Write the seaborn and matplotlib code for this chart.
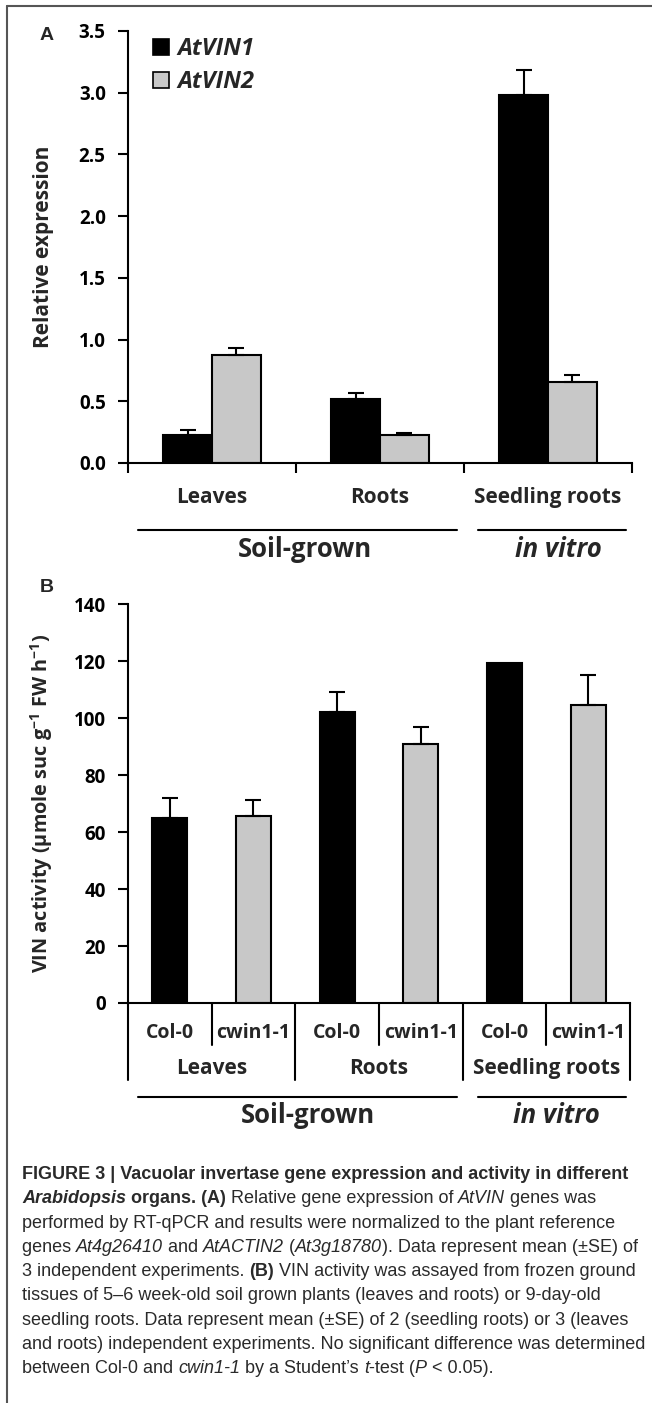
import numpy as np
import pandas as pd
import matplotlib
matplotlib.use("Agg")
import matplotlib.pyplot as plt
import seaborn as sns
from matplotlib.patches import Patch
from matplotlib.lines import Line2D
from matplotlib.container import BarContainer

# ---- data ----
organs = ["Leaves", "Roots", "Seedling roots"]
genes = ["AtVIN1", "AtVIN2"]
expr_vin1 = [0.23, 0.52, 2.98]
expr_vin2 = [0.875, 0.225, 0.66]
err_vin1 = [0.035, 0.05, 0.20]
err_vin2 = [0.055, 0.02, 0.05]

genotypes = ["Col-0", "cwin1-1"]
act_col = [65.0, 102.0, 119.3]
act_cwin = [65.5, 91.0, 104.5]
err_col = [7.0, 7.0, 0.0]
err_cwin = [5.7, 6.0, 10.5]

growth = ["Soil-grown", "in vitro"]

W, H = 652, 1403
FONT = "Open Sans"
sns.set_theme(style="white")
plt.rcParams["font.family"] = [FONT, "DejaVu Sans"]
plt.rcParams["font.weight"] = "bold"
plt.rcParams["mathtext.fontset"] = "custom"
plt.rcParams["mathtext.rm"] = FONT + ":bold"
plt.rcParams["mathtext.it"] = FONT + ":bold:italic"
plt.rcParams["mathtext.bf"] = FONT + ":bold"

fig = plt.figure(figsize=(W / 100, H / 100), dpi=100)
fig.patch.set_facecolor("white")


def px_axes(x0, x1, y0, y1):
    return fig.add_axes([x0 / W, 1 - y1 / H, (x1 - x0) / W, (y1 - y0) / H])


colors = ["black", "#c8c8c8"]

# ========================
# Panel A
# ========================
axA = px_axes(128, 632, 31, 463)
df_a = pd.DataFrame({
    "organ": organs * 2,
    "gene": [genes[0]] * 3 + [genes[1]] * 3,
    "value": expr_vin1 + expr_vin2,
})
sns.barplot(data=df_a, x="organ", y="value", hue="gene", order=organs,
            hue_order=genes, palette=colors, edgecolor="black", linewidth=1.5,
            width=0.58, errorbar=None, legend=False, ax=axA)
bars_a = [c for c in axA.containers if isinstance(c, BarContainer)]
for cont, errs in zip(bars_a, [err_vin1, err_vin2]):
    xs = [p.get_x() + p.get_width() / 2 for p in cont.patches]
    ys = [p.get_height() for p in cont.patches]
    axA.errorbar(xs, ys, yerr=[np.zeros(len(errs)), errs], fmt="none",
                 ecolor="black", elinewidth=1.5, capsize=6, capthick=1.5, zorder=1)

axA.set_ylim(0, 3.5)
axA.set_yticks(np.arange(0, 3.51, 0.5))
axA.set_yticklabels([f"{v:.1f}" for v in np.arange(0, 3.51, 0.5)])
axA.set_xlim(-0.5, 2.5)
axA.set_xticks([-0.5, 0.5, 1.5, 2.5])
axA.set_xticklabels([])
axA.set_xlabel("")
axA.set_ylabel("Relative expression", fontsize=15, fontweight="bold")
axA.yaxis.set_label_coords(-0.147, 0.5)

# ========================
# Panel B
# ========================
axB = px_axes(128, 630, 604, 1003)
keys = [f"{o}|{g}" for o in organs for g in genotypes]
vals_b = [v for pair in zip(act_col, act_cwin) for v in pair]
errs_b = [e for pair in zip(err_col, err_cwin) for e in pair]
df_b = pd.DataFrame({
    "key": keys,
    "genotype": genotypes * 3,
    "value": vals_b,
})
sns.barplot(data=df_b, x="key", y="value", hue="genotype", order=keys,
            hue_order=genotypes, palette=colors, edgecolor="black", linewidth=1.5,
            width=0.42, dodge=False, errorbar=None, legend=False, ax=axB)
bars_b = [c for c in axB.containers if isinstance(c, BarContainer)]
for cont in bars_b:
    for p in cont.patches:
        xc = p.get_x() + p.get_width() / 2
        i = int(round(xc))
        if errs_b[i] > 0:
            axB.errorbar([xc], [p.get_height()], yerr=[[0], [errs_b[i]]], fmt="none",
                         ecolor="black", elinewidth=1.5, capsize=6, capthick=1.5, zorder=1)

axB.set_ylim(0, 140)
axB.set_yticks(np.arange(0, 141, 20))
axB.set_xlim(-0.5, 5.5)
axB.set_xticks([])
axB.set_xlabel("")
axB.set_ylabel("VIN activity (µmole suc g$^{-1}$ FW h$^{-1}$)", fontsize=14.3,
               fontweight="bold")
axB.yaxis.set_label_coords(-0.145, 0.5)

for ax in (axA, axB):
    sns.despine(ax=ax)
    for s in ("left", "bottom"):
        ax.spines[s].set_linewidth(1.5)
        ax.spines[s].set_color("black")
    ax.tick_params(axis="y", direction="out", length=7, width=1.5, pad=9,
                   labelsize=13.5, left=True, colors="black")
    ax.tick_params(axis="x", direction="out", length=7, width=1.5, bottom=True,
                   colors="black")
    for lab in ax.get_yticklabels():
        lab.set_fontweight("bold")

# ---- panel A category labels and growth brackets ----
trA = axA.get_xaxis_transform()
for i, o in enumerate(organs):
    axA.text(i, -0.079, o, transform=trA, ha="center", va="center",
             fontsize=15, fontweight="bold")
axA.plot([-0.44, 1.458], [-0.155, -0.155], transform=trA, color="black",
         lw=1.5, clip_on=False)
axA.plot([1.583, 2.464], [-0.155, -0.155], transform=trA, color="black",
         lw=1.5, clip_on=False)
axA.text(0.55, -0.201, growth[0], transform=trA, ha="center", va="center",
         fontsize=18.5, fontweight="bold")
axA.text(2.06, -0.201, growth[1], transform=trA, ha="center", va="center",
         fontsize=18.5, fontweight="bold", fontstyle="italic")

# legend
handles = [Patch(facecolor=c, edgecolor="black", linewidth=1.2) for c in colors]
leg = axA.legend(handles, genes, loc="upper left",
                 bbox_to_anchor=(153 / W, 1 - 37 / H),
                 bbox_transform=fig.transFigure, frameon=False,
                 handlelength=0.68, handleheight=0.68, handletextpad=0.35,
                 labelspacing=0.4, borderaxespad=0, borderpad=0,
                 prop={"family": FONT, "weight": "bold", "style": "italic",
                       "size": 17})

# ---- panel B table ----
trB = axB.get_xaxis_transform()
for xb in [-0.5, 1.5, 3.5, 5.5]:
    axB.plot([xb, xb], [0, -0.193], transform=trB, color="black", lw=1.5,
             clip_on=False)
for xb in [0.5, 2.5, 4.5]:
    axB.plot([xb, xb], [0, -0.105], transform=trB, color="black", lw=1.5,
             clip_on=False)
for i, k in enumerate(keys):
    axB.text(i, -0.075, k.split("|")[1], transform=trB, ha="center",
             va="center", fontsize=14, fontweight="bold")
for i, o in enumerate(organs):
    axB.text(2 * i + 0.5, -0.163, o, transform=trB, ha="center", va="center",
             fontsize=15, fontweight="bold")
axB.plot([-0.38, 3.43], [-0.236, -0.236], transform=trB, color="black",
         lw=1.5, clip_on=False)
axB.plot([3.68, 5.45], [-0.236, -0.236], transform=trB, color="black",
         lw=1.5, clip_on=False)
axB.text(1.65, -0.281, growth[0], transform=trB, ha="center", va="center",
         fontsize=18.5, fontweight="bold")
axB.text(4.62, -0.281, growth[1], transform=trB, ha="center", va="center",
         fontsize=18.5, fontweight="bold", fontstyle="italic")

# panel letters
fig.text(47 / W, 1 - 36 / H, "A", ha="center", va="center", fontsize=14,
         fontweight="bold", family="Liberation Sans")
fig.text(47 / W, 1 - 587 / H, "B", ha="center", va="center", fontsize=14,
         fontweight="bold", family="Liberation Sans")

# frame
fig.add_artist(Line2D([7 / W, 7 / W], [0, 1 - 6 / H], transform=fig.transFigure,
                      color="#555555", lw=1.5))
fig.add_artist(Line2D([7 / W, 1], [1 - 6 / H, 1 - 6 / H], transform=fig.transFigure,
                      color="#555555", lw=1.5))

# ---- caption ----
caption = [
    [("FIGURE 3 | Vacuolar invertase gene expression and activity in different", "b")],
    [("Arabidopsis", "bi"), (" organs. (A)", "b"), (" Relative gene expression of ", "n"),
     ("AtVIN", "i"), (" genes was", "n")],
    [("performed by RT-qPCR and results were normalized to the plant reference", "n")],
    [("genes ", "n"), ("At4g26410", "i"), (" and ", "n"), ("AtACTIN2", "i"), (" (", "n"),
     ("At3g18780", "i"), ("). Data represent mean (±SE) of", "n")],
    [("3 independent experiments. ", "n"), ("(B)", "b"),
     (" VIN activity was assayed from frozen ground", "n")],
    [("tissues of 5–6 week-old soil grown plants (leaves and roots) or 9-day-old", "n")],
    [("seedling roots. Data represent mean (±SE) of 2 (seedling roots) or 3 (leaves", "n")],
    [("and roots) independent experiments. No significant difference was determined", "n")],
    [("between Col-0 and ", "n"), ("cwin1-1", "i"), (" by a Student’s ", "n"), ("t", "i"),
     ("-test (", "n"), ("P", "i"), (" < 0.05).", "n")],
]
cap_font = ["Liberation Sans", "DejaVu Sans"]
renderer = fig.canvas.get_renderer()
probe = fig.text(0, 0, caption[7][0][0], fontsize=12, family=cap_font,
                 fontweight="normal")
cap_size = 12 * 622 / probe.get_window_extent(renderer=renderer).width
probe.remove()
for li, segs in enumerate(caption):
    x = 22
    y = 1179 + li * 24.3
    for txt, st in segs:
        t = fig.text(x / W, 1 - y / H, txt, ha="left", va="baseline",
                     fontsize=cap_size, family=cap_font,
                     fontweight="bold" if "b" in st else "normal",
                     fontstyle="italic" if "i" in st else "normal",
                     color="#2a2a2a")
        bb = t.get_window_extent(renderer=renderer)
        x = bb.x1

fig.savefig("out.png", dpi=100)
